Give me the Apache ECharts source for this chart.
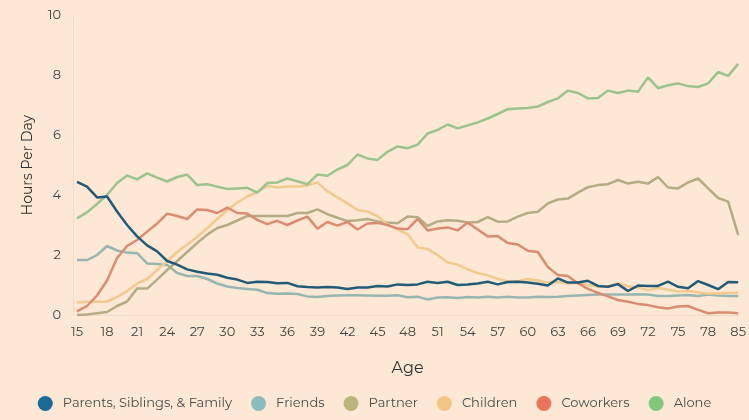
<!DOCTYPE html>
<html>
<head>
<meta charset="utf-8">
<script src="https://cdn.jsdelivr.net/npm/echarts@6/dist/echarts.min.js"></script>
<style>
html,body{margin:0;padding:0;background:#FCE8D4;}
#c{width:749px;height:420px;}
</style>
</head>
<body>
<div id="c"></div>
<script>
const ages = ['15','16','17','18','19','20','21','22','23','24','25','26','27','28','29','30','31','32','33','34','35','36','37','38','39','40','41','42','43','44','45','46','47','48','49','50','51','52','53','54','55','56','57','58','59','60','61','62','63','64','65','66','67','68','69','70','71','72','73','74','75','76','77','78','79','80','85'];

const family = [4.44,4.28,3.92,3.95,3.45,3.0,2.62,2.32,2.12,1.8,1.68,1.52,1.44,1.38,1.34,1.24,1.18,1.07,1.11,1.1,1.06,1.07,0.96,0.93,0.92,0.93,0.92,0.87,0.92,0.92,0.97,0.95,1.02,1.0,1.02,1.11,1.07,1.11,1.0,1.02,1.05,1.11,1.02,1.1,1.11,1.08,1.04,0.98,1.22,1.08,1.08,1.14,0.97,0.94,1.03,0.8,0.98,0.97,0.97,1.11,0.94,0.89,1.13,1.0,0.86,1.1,1.09];

const friends = [1.83,1.83,2.0,2.3,2.15,2.08,2.06,1.72,1.7,1.67,1.4,1.3,1.3,1.2,1.05,0.95,0.9,0.87,0.84,0.73,0.71,0.72,0.7,0.62,0.6,0.63,0.65,0.66,0.66,0.65,0.64,0.64,0.66,0.59,0.61,0.52,0.58,0.59,0.57,0.6,0.58,0.61,0.58,0.61,0.58,0.58,0.61,0.6,0.61,0.63,0.65,0.67,0.68,0.68,0.68,0.68,0.69,0.68,0.63,0.63,0.65,0.67,0.63,0.68,0.65,0.63,0.63];

const partner = [0.0,0.02,0.06,0.1,0.3,0.45,0.88,0.88,1.18,1.5,1.8,2.1,2.4,2.68,2.9,3.0,3.15,3.3,3.3,3.3,3.3,3.3,3.4,3.4,3.52,3.36,3.24,3.13,3.16,3.2,3.12,3.08,3.06,3.28,3.26,2.97,3.12,3.16,3.14,3.08,3.1,3.26,3.11,3.12,3.28,3.4,3.44,3.72,3.85,3.88,4.08,4.26,4.33,4.36,4.5,4.38,4.44,4.38,4.6,4.25,4.22,4.42,4.55,4.22,3.9,3.78,2.67];

const children = [0.42,0.44,0.44,0.45,0.6,0.8,1.05,1.2,1.5,1.8,2.1,2.35,2.6,2.9,3.2,3.5,3.75,3.95,4.1,4.3,4.25,4.28,4.28,4.32,4.42,4.12,3.92,3.72,3.5,3.45,3.3,3.02,2.85,2.7,2.25,2.2,2.0,1.75,1.68,1.52,1.4,1.32,1.2,1.12,1.12,1.2,1.15,1.08,1.1,1.06,1.07,1.0,0.95,0.95,1.06,0.96,0.92,0.82,0.9,0.84,0.78,0.8,0.76,0.72,0.72,0.74,0.74];

const coworkers = [0.12,0.3,0.65,1.15,1.9,2.3,2.5,2.78,3.05,3.38,3.3,3.2,3.52,3.5,3.4,3.58,3.4,3.38,3.17,3.03,3.14,3.0,3.15,3.28,2.88,3.1,2.98,3.1,2.85,3.05,3.07,3.0,2.88,2.86,3.2,2.82,2.88,2.92,2.82,3.08,2.85,2.62,2.63,2.4,2.35,2.14,2.1,1.6,1.33,1.3,1.06,0.87,0.74,0.62,0.5,0.44,0.37,0.33,0.26,0.22,0.28,0.3,0.17,0.06,0.08,0.08,0.06];

const alone = [3.22,3.42,3.7,4.0,4.4,4.65,4.52,4.72,4.58,4.45,4.6,4.68,4.33,4.36,4.28,4.2,4.22,4.24,4.08,4.4,4.42,4.55,4.46,4.36,4.68,4.64,4.85,5.0,5.35,5.22,5.17,5.44,5.62,5.56,5.68,6.05,6.17,6.35,6.22,6.32,6.42,6.55,6.7,6.86,6.88,6.9,6.95,7.1,7.22,7.48,7.4,7.22,7.23,7.48,7.4,7.48,7.44,7.92,7.56,7.66,7.72,7.63,7.6,7.72,8.1,7.97,8.37];

const seriesNames = ['Parents, Siblings, & Family','Friends','Partner','Children','Coworkers','Alone'];
const seriesData = [family, friends, partner, children, coworkers, alone];
const lineColors = ['#225B78','#98B6B1','#B3AC84','#F0CA8E','#DA8C72','#9CC28E'];
const legendColors = ['#1C6A96','#8BBDC0','#BAB57C','#F3C585','#E8745B','#7FC87C'];

const FONT = 'Montserrat, "Noto Sans", "Open Sans", sans-serif';

const chart = echarts.init(document.getElementById('c'));
chart.setOption({
  backgroundColor: '#FCE8D4',
  animation: false,
  textStyle: { fontFamily: FONT },
  grid: { left: 77, right: 10, top: 15, bottom: 105 },
  legend: {
    bottom: 4,
    left: 'center',
    icon: 'circle',
    itemWidth: 15,
    itemHeight: 15,
    itemGap: 19,
    textStyle: { color: '#4a4a4a', fontSize: 13, fontFamily: FONT, padding: [0, 0, 0, 5] },
    data: seriesNames.map((n, i) => ({ name: n, itemStyle: { color: legendColors[i] } }))
  },
  xAxis: {
    type: 'category',
    data: ages,
    boundaryGap: false,
    name: 'Age',
    nameLocation: 'middle',
    nameGap: 45,
    nameTextStyle: { color: '#333', fontSize: 16, fontFamily: FONT },
    axisLine: { lineStyle: { color: '#EEDCC8', width: 1 } },
    axisTick: { show: false },
    axisLabel: { interval: 2, color: '#444', fontSize: 13, margin: 11 },
    splitLine: { show: false }
  },
  yAxis: {
    type: 'value',
    min: 0,
    max: 10,
    interval: 2,
    offset: 4,
    name: 'Hours Per Day',
    nameLocation: 'middle',
    nameGap: 38,
    nameTextStyle: { color: '#333', fontSize: 14, fontFamily: FONT },
    axisLine: { show: true, lineStyle: { color: '#EEDCC8', width: 1 } },
    axisTick: { show: false },
    axisLabel: { color: '#444', fontSize: 13, margin: 12 },
    splitLine: { show: false }
  },
  series: seriesNames.map((n, i) => ({
    name: n,
    type: 'line',
    data: seriesData[i],
    symbol: 'none',
    smooth: false,
    color: lineColors[i],
    lineStyle: { width: 2.5, color: lineColors[i] },
    z: i === 0 ? 3 : 2
  }))
});
</script>
</body>
</html>
